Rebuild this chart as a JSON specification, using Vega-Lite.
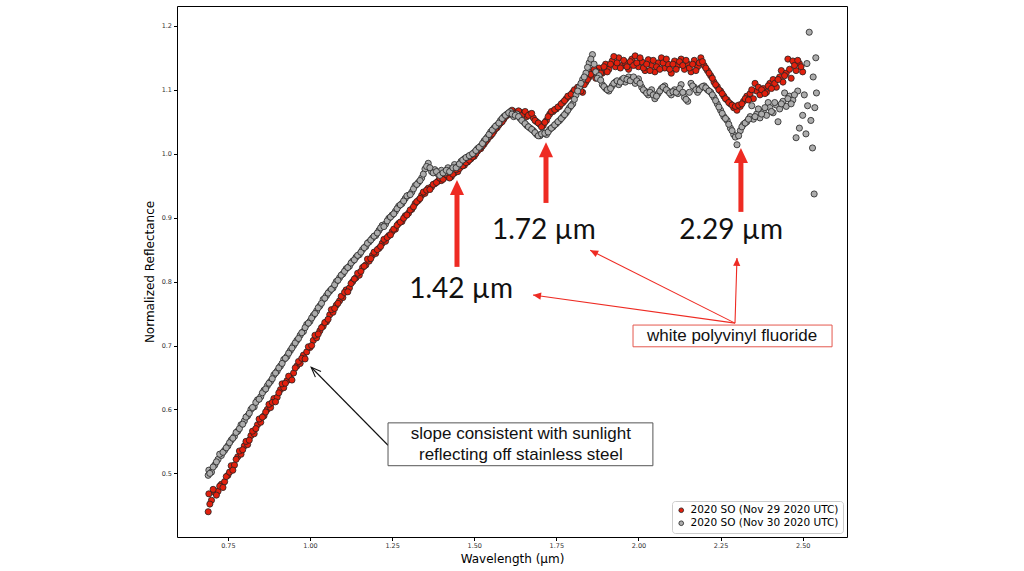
{
"$schema": "https://vega.github.io/schema/vega-lite/v6.json",
"width": 670, "height": 531,
"autosize": "none",
"padding": {"left": 177, "top": 6, "right": 177, "bottom": 34},
"background": "white",
"config": {
  "view": {"stroke": "#000", "strokeWidth": 1},
  "font": "DejaVu Sans",
  "axis": {"domain": false, "grid": false, "tickSize": 3.5, "tickColor": "#000", "labelFontSize": 6.5, "labelColor": "#333", "labelPadding": 2, "titleFontSize": 12, "titleFontWeight": "normal", "titleColor": "#000", "titleFont": "DejaVu Sans", "labelFont": "DejaVu Sans"}
},
"datasets": {
"nov29": [
{"w":0.69,"r":0.44},{"w":0.692,"r":0.468},{"w":0.70,"r":0.458},{"w":0.71,"r":0.47},{"w":0.72,"r":0.472},{"w":0.73,"r":0.483},{"w":0.74,"r":0.487},{"w":0.75,"r":0.497},{"w":0.76,"r":0.512},{"w":0.77,"r":0.513},{"w":0.78,"r":0.526},{"w":0.79,"r":0.53},{"w":0.80,"r":0.543},{"w":0.81,"r":0.545},{"w":0.82,"r":0.559},{"w":0.83,"r":0.562},{"w":0.84,"r":0.576},{"w":0.85,"r":0.58},{"w":0.86,"r":0.59},{"w":0.87,"r":0.6},{"w":0.88,"r":0.603},{"w":0.89,"r":0.617},{"w":0.90,"r":0.619},{"w":0.91,"r":0.631},{"w":0.92,"r":0.634},{"w":0.93,"r":0.645},{"w":0.94,"r":0.65},{"w":0.95,"r":0.657},{"w":0.96,"r":0.668},{"w":0.97,"r":0.672},{"w":0.98,"r":0.685},{"w":0.99,"r":0.69},
{"w":1.00,"r":0.697},{"w":1.01,"r":0.708},{"w":1.02,"r":0.712},{"w":1.03,"r":0.723},{"w":1.04,"r":0.73},{"w":1.05,"r":0.737},{"w":1.06,"r":0.748},{"w":1.07,"r":0.752},{"w":1.08,"r":0.763},{"w":1.09,"r":0.77},{"w":1.10,"r":0.775},{"w":1.11,"r":0.787},{"w":1.12,"r":0.79},{"w":1.13,"r":0.8},{"w":1.14,"r":0.806},{"w":1.15,"r":0.81},{"w":1.16,"r":0.822},{"w":1.17,"r":0.826},{"w":1.18,"r":0.832},{"w":1.19,"r":0.841},{"w":1.20,"r":0.844},{"w":1.21,"r":0.852},{"w":1.22,"r":0.86},{"w":1.23,"r":0.863},{"w":1.24,"r":0.872},{"w":1.25,"r":0.878},{"w":1.26,"r":0.882},{"w":1.27,"r":0.891},{"w":1.28,"r":0.894},{"w":1.29,"r":0.903},{"w":1.30,"r":0.907},{"w":1.31,"r":0.913},{"w":1.32,"r":0.922},{"w":1.33,"r":0.927},{"w":1.34,"r":0.935},{"w":1.35,"r":0.938},{"w":1.36,"r":0.946},{"w":1.37,"r":0.948},{"w":1.38,"r":0.953},{"w":1.39,"r":0.957},{"w":1.40,"r":0.958},{"w":1.41,"r":0.963},{"w":1.42,"r":0.966},{"w":1.43,"r":0.964},{"w":1.44,"r":0.97},{"w":1.45,"r":0.972},{"w":1.46,"r":0.98},{"w":1.47,"r":0.982},{"w":1.48,"r":0.987},{"w":1.49,"r":0.992},
{"w":1.50,"r":0.996},{"w":1.51,"r":1.004},{"w":1.52,"r":1.008},{"w":1.53,"r":1.015},{"w":1.54,"r":1.022},{"w":1.55,"r":1.028},{"w":1.56,"r":1.035},{"w":1.57,"r":1.041},{"w":1.58,"r":1.048},{"w":1.59,"r":1.054},{"w":1.60,"r":1.06},{"w":1.61,"r":1.062},{"w":1.62,"r":1.066},{"w":1.63,"r":1.06},{"w":1.64,"r":1.065},{"w":1.65,"r":1.062},{"w":1.66,"r":1.058},{"w":1.67,"r":1.062},{"w":1.68,"r":1.056},{"w":1.69,"r":1.05},{"w":1.70,"r":1.046},{"w":1.71,"r":1.044},{"w":1.72,"r":1.052},{"w":1.73,"r":1.062},{"w":1.74,"r":1.066},{"w":1.75,"r":1.07},{"w":1.76,"r":1.074},{"w":1.77,"r":1.08},{"w":1.78,"r":1.086},{"w":1.79,"r":1.09},{"w":1.80,"r":1.096},{"w":1.81,"r":1.1},{"w":1.82,"r":1.104},{"w":1.83,"r":1.096},{"w":1.84,"r":1.112},{"w":1.85,"r":1.12},{"w":1.86,"r":1.128},{"w":1.87,"r":1.118},{"w":1.88,"r":1.134},{"w":1.89,"r":1.126},{"w":1.90,"r":1.14},{"w":1.91,"r":1.132},{"w":1.92,"r":1.145},{"w":1.93,"r":1.136},{"w":1.94,"r":1.15},{"w":1.95,"r":1.138},{"w":1.96,"r":1.142},{"w":1.97,"r":1.132},{"w":1.98,"r":1.148},{"w":1.99,"r":1.153},
{"w":2.00,"r":1.136},{"w":2.01,"r":1.144},{"w":2.02,"r":1.13},{"w":2.03,"r":1.147},{"w":2.04,"r":1.138},{"w":2.05,"r":1.128},{"w":2.06,"r":1.142},{"w":2.07,"r":1.15},{"w":2.08,"r":1.134},{"w":2.09,"r":1.14},{"w":2.10,"r":1.126},{"w":2.11,"r":1.145},{"w":2.12,"r":1.138},{"w":2.13,"r":1.148},{"w":2.14,"r":1.132},{"w":2.15,"r":1.14},{"w":2.16,"r":1.128},{"w":2.17,"r":1.146},{"w":2.18,"r":1.136},{"w":2.19,"r":1.15},{"w":2.20,"r":1.138},{"w":2.21,"r":1.13},{"w":2.22,"r":1.122},{"w":2.23,"r":1.112},{"w":2.24,"r":1.105},{"w":2.25,"r":1.098},{"w":2.26,"r":1.09},{"w":2.27,"r":1.084},{"w":2.28,"r":1.078},{"w":2.29,"r":1.072},{"w":2.30,"r":1.068},{"w":2.31,"r":1.074},{"w":2.32,"r":1.082},{"w":2.33,"r":1.09},{"w":2.34,"r":1.094},{"w":2.35,"r":1.086},{"w":2.355,"r":1.11},{"w":2.36,"r":1.098},{"w":2.37,"r":1.092},{"w":2.38,"r":1.102},{"w":2.39,"r":1.096},{"w":2.40,"r":1.11},{"w":2.41,"r":1.116},{"w":2.42,"r":1.104},{"w":2.43,"r":1.12},{"w":2.435,"r":1.13},{"w":2.44,"r":1.112},{"w":2.45,"r":1.126},{"w":2.455,"r":1.148},{"w":2.46,"r":1.132},{"w":2.465,"r":1.118},{"w":2.47,"r":1.145},{"w":2.48,"r":1.13},{"w":2.49,"r":1.141},{"w":2.50,"r":1.128},
{"w":0.695,"r":0.452},{"w":0.705,"r":0.475},{"w":0.715,"r":0.466},{"w":0.725,"r":0.48},{"w":0.735,"r":0.478},{"w":0.745,"r":0.495},{"w":0.755,"r":0.502},{"w":0.765,"r":0.505},{"w":0.775,"r":0.522},{"w":0.785,"r":0.535},{"w":0.795,"r":0.537},{"w":0.805,"r":0.55},{"w":0.815,"r":0.552},{"w":0.825,"r":0.566},{"w":0.835,"r":0.57},{"w":0.845,"r":0.585},{"w":0.855,"r":0.588},{"w":0.865,"r":0.596},{"w":0.875,"r":0.608},{"w":0.885,"r":0.611},{"w":0.895,"r":0.612},{"w":0.905,"r":0.626},{"w":0.915,"r":0.64},{"w":0.925,"r":0.641},{"w":0.935,"r":0.652},{"w":0.945,"r":0.646},{"w":0.955,"r":0.665},{"w":0.965,"r":0.675},{"w":0.975,"r":0.68},{"w":0.985,"r":0.679},{"w":0.995,"r":0.698},
{"w":1.005,"r":0.7},{"w":1.015,"r":0.716},{"w":1.025,"r":0.718},{"w":1.035,"r":0.728},{"w":1.045,"r":0.736},{"w":1.055,"r":0.741},{"w":1.065,"r":0.756},{"w":1.075,"r":0.758},{"w":1.085,"r":0.766},{"w":1.095,"r":0.777},{"w":1.105,"r":0.783},{"w":1.115,"r":0.784},{"w":1.125,"r":0.797},{"w":1.135,"r":0.804},{"w":1.145,"r":0.813},{"w":1.155,"r":0.816},{"w":1.165,"r":0.824},{"w":1.175,"r":0.835},{"w":1.185,"r":0.836},{"w":1.195,"r":0.846},{"w":1.205,"r":0.85},{"w":1.215,"r":0.855},{"w":1.225,"r":0.866},{"w":1.235,"r":0.869},{"w":1.245,"r":0.873},{"w":1.255,"r":0.882},{"w":1.265,"r":0.888},{"w":1.275,"r":0.893},{"w":1.285,"r":0.899},{"w":1.295,"r":0.904},{"w":1.305,"r":0.912},{"w":1.315,"r":0.917},{"w":1.325,"r":0.925},{"w":1.335,"r":0.93},{"w":1.345,"r":0.94},{"w":1.355,"r":0.943},{"w":1.365,"r":0.944},{"w":1.375,"r":0.952},{"w":1.385,"r":0.955},{"w":1.395,"r":0.962},{"w":1.405,"r":0.96},{"w":1.415,"r":0.967},{"w":1.425,"r":0.962},{"w":1.435,"r":0.968},{"w":1.445,"r":0.975},{"w":1.455,"r":0.977},{"w":1.465,"r":0.981},{"w":1.475,"r":0.986},{"w":1.485,"r":0.99},{"w":1.495,"r":0.995},
{"w":1.505,"r":1.0},{"w":1.515,"r":1.007},{"w":1.525,"r":1.012},{"w":1.535,"r":1.019},{"w":1.545,"r":1.026},{"w":1.555,"r":1.031},{"w":1.565,"r":1.039},{"w":1.575,"r":1.045},{"w":1.585,"r":1.05},{"w":1.595,"r":1.058},{"w":1.605,"r":1.063},{"w":1.615,"r":1.068},{"w":1.625,"r":1.063},{"w":1.635,"r":1.067},{"w":1.645,"r":1.06},{"w":1.655,"r":1.066},{"w":1.665,"r":1.06},{"w":1.675,"r":1.063},{"w":1.685,"r":1.052},{"w":1.695,"r":1.048},{"w":1.705,"r":1.042},{"w":1.715,"r":1.049},{"w":1.725,"r":1.058},{"w":1.735,"r":1.066},{"w":1.745,"r":1.069},{"w":1.755,"r":1.073},{"w":1.765,"r":1.078},{"w":1.775,"r":1.083},{"w":1.785,"r":1.09},{"w":1.795,"r":1.093},{"w":1.805,"r":1.1},{"w":1.815,"r":1.104},{"w":1.825,"r":1.098},{"w":1.835,"r":1.108},{"w":1.845,"r":1.116},{"w":1.855,"r":1.124},{"w":1.865,"r":1.132},{"w":1.875,"r":1.128},{"w":1.885,"r":1.126},{"w":1.895,"r":1.136},{"w":1.905,"r":1.128},{"w":1.915,"r":1.14},{"w":1.925,"r":1.152},{"w":1.935,"r":1.142},{"w":1.945,"r":1.134},{"w":1.955,"r":1.146},{"w":1.965,"r":1.136},{"w":1.975,"r":1.144},{"w":1.985,"r":1.138},{"w":1.995,"r":1.142},
{"w":2.005,"r":1.15},{"w":2.015,"r":1.134},{"w":2.025,"r":1.14},{"w":2.035,"r":1.13},{"w":2.045,"r":1.146},{"w":2.055,"r":1.136},{"w":2.065,"r":1.132},{"w":2.075,"r":1.142},{"w":2.085,"r":1.148},{"w":2.095,"r":1.132},{"w":2.105,"r":1.14},{"w":2.115,"r":1.132},{"w":2.125,"r":1.144},{"w":2.135,"r":1.138},{"w":2.145,"r":1.146},{"w":2.155,"r":1.134},{"w":2.165,"r":1.14},{"w":2.175,"r":1.13},{"w":2.185,"r":1.142},{"w":2.195,"r":1.144},{"w":2.205,"r":1.134},{"w":2.215,"r":1.126},{"w":2.225,"r":1.118},{"w":2.235,"r":1.108},{"w":2.245,"r":1.1},{"w":2.255,"r":1.094},{"w":2.265,"r":1.086},{"w":2.275,"r":1.08},{"w":2.285,"r":1.076},{"w":2.295,"r":1.074},{"w":2.305,"r":1.076},{"w":2.315,"r":1.078},{"w":2.325,"r":1.086},{"w":2.335,"r":1.084},{"w":2.345,"r":1.1},{"w":2.365,"r":1.104},{"w":2.375,"r":1.1},{"w":2.385,"r":1.094},{"w":2.395,"r":1.106},{"w":2.405,"r":1.102},{"w":2.415,"r":1.11},{"w":2.425,"r":1.116},{"w":2.445,"r":1.122},{"w":2.475,"r":1.138},{"w":2.485,"r":1.146},{"w":2.495,"r":1.136}
],
"nov30": [
{"w":0.69,"r":0.497},{"w":0.692,"r":0.505},{"w":0.70,"r":0.502},{"w":0.71,"r":0.513},{"w":0.72,"r":0.522},{"w":0.73,"r":0.528},{"w":0.74,"r":0.536},{"w":0.75,"r":0.543},{"w":0.76,"r":0.552},{"w":0.77,"r":0.558},{"w":0.78,"r":0.566},{"w":0.79,"r":0.576},{"w":0.80,"r":0.582},{"w":0.81,"r":0.59},{"w":0.82,"r":0.6},{"w":0.83,"r":0.604},{"w":0.84,"r":0.615},{"w":0.85,"r":0.62},{"w":0.86,"r":0.63},{"w":0.87,"r":0.637},{"w":0.88,"r":0.644},{"w":0.89,"r":0.654},{"w":0.90,"r":0.66},{"w":0.91,"r":0.668},{"w":0.92,"r":0.678},{"w":0.93,"r":0.683},{"w":0.94,"r":0.692},{"w":0.95,"r":0.7},{"w":0.96,"r":0.708},{"w":0.97,"r":0.716},{"w":0.98,"r":0.722},{"w":0.99,"r":0.733},
{"w":1.00,"r":0.738},{"w":1.01,"r":0.747},{"w":1.02,"r":0.754},{"w":1.03,"r":0.762},{"w":1.04,"r":0.772},{"w":1.05,"r":0.778},{"w":1.06,"r":0.785},{"w":1.07,"r":0.79},{"w":1.08,"r":0.8},{"w":1.09,"r":0.806},{"w":1.10,"r":0.812},{"w":1.11,"r":0.82},{"w":1.12,"r":0.824},{"w":1.13,"r":0.832},{"w":1.14,"r":0.838},{"w":1.15,"r":0.842},{"w":1.16,"r":0.85},{"w":1.17,"r":0.855},{"w":1.18,"r":0.862},{"w":1.19,"r":0.868},{"w":1.20,"r":0.872},{"w":1.21,"r":0.88},{"w":1.22,"r":0.888},{"w":1.23,"r":0.89},{"w":1.24,"r":0.899},{"w":1.25,"r":0.904},{"w":1.26,"r":0.91},{"w":1.27,"r":0.918},{"w":1.28,"r":0.922},{"w":1.29,"r":0.93},{"w":1.30,"r":0.935},{"w":1.31,"r":0.94},{"w":1.32,"r":0.95},{"w":1.33,"r":0.955},{"w":1.34,"r":0.962},{"w":1.35,"r":0.976},{"w":1.36,"r":0.985},{"w":1.37,"r":0.972},{"w":1.38,"r":0.975},{"w":1.39,"r":0.968},{"w":1.40,"r":0.974},{"w":1.41,"r":0.97},{"w":1.42,"r":0.978},{"w":1.43,"r":0.975},{"w":1.44,"r":0.983},{"w":1.45,"r":0.98},{"w":1.46,"r":0.988},{"w":1.47,"r":0.992},{"w":1.48,"r":0.995},{"w":1.49,"r":0.998},
{"w":1.50,"r":1.002},{"w":1.51,"r":1.008},{"w":1.52,"r":1.012},{"w":1.53,"r":1.02},{"w":1.54,"r":1.026},{"w":1.55,"r":1.034},{"w":1.56,"r":1.04},{"w":1.57,"r":1.045},{"w":1.58,"r":1.052},{"w":1.59,"r":1.058},{"w":1.60,"r":1.062},{"w":1.61,"r":1.066},{"w":1.62,"r":1.058},{"w":1.63,"r":1.062},{"w":1.64,"r":1.055},{"w":1.65,"r":1.05},{"w":1.66,"r":1.044},{"w":1.67,"r":1.04},{"w":1.68,"r":1.036},{"w":1.69,"r":1.03},{"w":1.70,"r":1.028},{"w":1.71,"r":1.033},{"w":1.72,"r":1.03},{"w":1.73,"r":1.038},{"w":1.74,"r":1.042},{"w":1.75,"r":1.047},{"w":1.76,"r":1.052},{"w":1.77,"r":1.058},{"w":1.78,"r":1.064},{"w":1.79,"r":1.072},{"w":1.80,"r":1.078},{"w":1.81,"r":1.092},{"w":1.82,"r":1.104},{"w":1.83,"r":1.116},{"w":1.84,"r":1.126},{"w":1.85,"r":1.142},{"w":1.86,"r":1.155},{"w":1.87,"r":1.128},{"w":1.88,"r":1.122},{"w":1.89,"r":1.108},{"w":1.90,"r":1.102},{"w":1.91,"r":1.098},{"w":1.92,"r":1.106},{"w":1.93,"r":1.112},{"w":1.94,"r":1.108},{"w":1.95,"r":1.116},{"w":1.96,"r":1.112},{"w":1.97,"r":1.12},{"w":1.98,"r":1.116},{"w":1.99,"r":1.11},
{"w":2.00,"r":1.117},{"w":2.01,"r":1.104},{"w":2.02,"r":1.098},{"w":2.03,"r":1.092},{"w":2.04,"r":1.1},{"w":2.05,"r":1.086},{"w":2.06,"r":1.094},{"w":2.07,"r":1.102},{"w":2.08,"r":1.106},{"w":2.09,"r":1.098},{"w":2.10,"r":1.092},{"w":2.11,"r":1.1},{"w":2.12,"r":1.094},{"w":2.13,"r":1.108},{"w":2.14,"r":1.088},{"w":2.15,"r":1.082},{"w":2.16,"r":1.11},{"w":2.17,"r":1.104},{"w":2.18,"r":1.096},{"w":2.19,"r":1.103},{"w":2.20,"r":1.106},{"w":2.21,"r":1.1},{"w":2.22,"r":1.096},{"w":2.23,"r":1.088},{"w":2.24,"r":1.078},{"w":2.25,"r":1.068},{"w":2.26,"r":1.058},{"w":2.27,"r":1.052},{"w":2.28,"r":1.04},{"w":2.29,"r":1.03},{"w":2.30,"r":1.014},{"w":2.31,"r":1.036},{"w":2.32,"r":1.046},{"w":2.33,"r":1.05},{"w":2.34,"r":1.058},{"w":2.345,"r":1.075},{"w":2.35,"r":1.054},{"w":2.36,"r":1.062},{"w":2.37,"r":1.056},{"w":2.38,"r":1.066},{"w":2.39,"r":1.06},{"w":2.395,"r":1.08},{"w":2.40,"r":1.072},{"w":2.41,"r":1.064},{"w":2.42,"r":1.076},{"w":2.425,"r":1.05},{"w":2.43,"r":1.07},{"w":2.44,"r":1.082},{"w":2.445,"r":1.095},{"w":2.45,"r":1.074},{"w":2.46,"r":1.09},{"w":2.47,"r":1.084},{"w":2.48,"r":1.025},{"w":2.485,"r":1.098},{"w":2.49,"r":1.04},{"w":2.50,"r":1.06},{"w":2.505,"r":1.092},{"w":2.51,"r":1.031},{"w":2.513,"r":1.141},{"w":2.515,"r":1.075},{"w":2.52,"r":1.19},{"w":2.525,"r":1.052},{"w":2.53,"r":1.009},{"w":2.532,"r":1.12},{"w":2.535,"r":0.937},{"w":2.537,"r":1.072},{"w":2.54,"r":1.15},{"w":2.542,"r":1.095},
{"w":0.695,"r":0.5},{"w":0.705,"r":0.51},{"w":0.715,"r":0.518},{"w":0.725,"r":0.53},{"w":0.735,"r":0.533},{"w":0.745,"r":0.54},{"w":0.755,"r":0.548},{"w":0.765,"r":0.555},{"w":0.775,"r":0.564},{"w":0.785,"r":0.57},{"w":0.795,"r":0.577},{"w":0.805,"r":0.588},{"w":0.815,"r":0.594},{"w":0.825,"r":0.603},{"w":0.835,"r":0.611},{"w":0.845,"r":0.616},{"w":0.855,"r":0.626},{"w":0.865,"r":0.632},{"w":0.875,"r":0.641},{"w":0.885,"r":0.648},{"w":0.895,"r":0.657},{"w":0.905,"r":0.665},{"w":0.915,"r":0.672},{"w":0.925,"r":0.68},{"w":0.935,"r":0.688},{"w":0.945,"r":0.696},{"w":0.955,"r":0.704},{"w":0.965,"r":0.711},{"w":0.975,"r":0.72},{"w":0.985,"r":0.728},{"w":0.995,"r":0.735},
{"w":1.005,"r":0.743},{"w":1.015,"r":0.75},{"w":1.025,"r":0.759},{"w":1.035,"r":0.766},{"w":1.045,"r":0.774},{"w":1.055,"r":0.782},{"w":1.065,"r":0.788},{"w":1.075,"r":0.795},{"w":1.085,"r":0.802},{"w":1.095,"r":0.81},{"w":1.105,"r":0.816},{"w":1.115,"r":0.822},{"w":1.125,"r":0.829},{"w":1.135,"r":0.834},{"w":1.145,"r":0.841},{"w":1.155,"r":0.846},{"w":1.165,"r":0.853},{"w":1.175,"r":0.86},{"w":1.185,"r":0.865},{"w":1.195,"r":0.871},{"w":1.205,"r":0.876},{"w":1.215,"r":0.884},{"w":1.225,"r":0.886},{"w":1.235,"r":0.895},{"w":1.245,"r":0.901},{"w":1.255,"r":0.906},{"w":1.265,"r":0.914},{"w":1.275,"r":0.92},{"w":1.285,"r":0.926},{"w":1.295,"r":0.934},{"w":1.305,"r":0.936},{"w":1.315,"r":0.945},{"w":1.325,"r":0.952},{"w":1.335,"r":0.958},{"w":1.345,"r":0.968},{"w":1.355,"r":0.98},{"w":1.365,"r":0.978},{"w":1.375,"r":0.97},{"w":1.385,"r":0.972},{"w":1.395,"r":0.966},{"w":1.405,"r":0.97},{"w":1.415,"r":0.974},{"w":1.425,"r":0.972},{"w":1.435,"r":0.978},{"w":1.445,"r":0.978},{"w":1.455,"r":0.984},{"w":1.465,"r":0.99},{"w":1.475,"r":0.994},{"w":1.485,"r":0.997},{"w":1.495,"r":1.0},
{"w":1.505,"r":1.005},{"w":1.515,"r":1.01},{"w":1.525,"r":1.016},{"w":1.535,"r":1.023},{"w":1.545,"r":1.03},{"w":1.555,"r":1.037},{"w":1.565,"r":1.043},{"w":1.575,"r":1.048},{"w":1.585,"r":1.055},{"w":1.595,"r":1.06},{"w":1.605,"r":1.064},{"w":1.615,"r":1.062},{"w":1.625,"r":1.06},{"w":1.635,"r":1.058},{"w":1.645,"r":1.052},{"w":1.655,"r":1.047},{"w":1.665,"r":1.042},{"w":1.675,"r":1.038},{"w":1.685,"r":1.033},{"w":1.695,"r":1.028},{"w":1.705,"r":1.031},{"w":1.715,"r":1.032},{"w":1.725,"r":1.034},{"w":1.735,"r":1.04},{"w":1.745,"r":1.045},{"w":1.755,"r":1.05},{"w":1.765,"r":1.055},{"w":1.775,"r":1.061},{"w":1.785,"r":1.068},{"w":1.795,"r":1.075},{"w":1.805,"r":1.085},{"w":1.815,"r":1.098},{"w":1.825,"r":1.11},{"w":1.835,"r":1.12},{"w":1.845,"r":1.135},{"w":1.855,"r":1.148},{"w":1.865,"r":1.14},{"w":1.875,"r":1.118},{"w":1.885,"r":1.115},{"w":1.895,"r":1.105},{"w":1.905,"r":1.1},{"w":1.915,"r":1.102},{"w":1.925,"r":1.11},{"w":1.935,"r":1.114},{"w":1.945,"r":1.112},{"w":1.955,"r":1.118},{"w":1.965,"r":1.116},{"w":1.975,"r":1.114},{"w":1.985,"r":1.12},{"w":1.995,"r":1.114},
{"w":2.005,"r":1.11},{"w":2.015,"r":1.1},{"w":2.025,"r":1.095},{"w":2.035,"r":1.096},{"w":2.045,"r":1.092},{"w":2.055,"r":1.09},{"w":2.065,"r":1.098},{"w":2.075,"r":1.104},{"w":2.085,"r":1.1},{"w":2.095,"r":1.095},{"w":2.105,"r":1.097},{"w":2.115,"r":1.096},{"w":2.125,"r":1.102},{"w":2.135,"r":1.096},{"w":2.145,"r":1.085},{"w":2.155,"r":1.096},{"w":2.165,"r":1.106},{"w":2.175,"r":1.1},{"w":2.185,"r":1.1},{"w":2.195,"r":1.105},{"w":2.205,"r":1.103},{"w":2.215,"r":1.098},{"w":2.225,"r":1.092},{"w":2.235,"r":1.083},{"w":2.245,"r":1.073},{"w":2.255,"r":1.063},{"w":2.265,"r":1.055},{"w":2.275,"r":1.046},{"w":2.285,"r":1.036},{"w":2.295,"r":1.026},{"w":2.305,"r":1.028},{"w":2.315,"r":1.042},{"w":2.325,"r":1.048},{"w":2.335,"r":1.054},{"w":2.355,"r":1.058},{"w":2.365,"r":1.07},{"w":2.375,"r":1.062},{"w":2.385,"r":1.072},{"w":2.405,"r":1.066},{"w":2.415,"r":1.08},{"w":2.435,"r":1.078},{"w":2.455,"r":1.086},{"w":2.465,"r":1.078},{"w":2.475,"r":1.092}
]
},
"encoding": {
  "x": {"field": "w", "type": "quantitative", "scale": {"domain": [0.595, 2.635], "nice": false, "zero": false}, "axis": {"title": "Wavelength (µm)", "values": [0.75, 1, 1.25, 1.5, 1.75, 2, 2.25, 2.5], "format": ".2f", "titlePadding": 4}},
  "y": {"field": "r", "type": "quantitative", "scale": {"domain": [0.4005, 1.231], "nice": false, "zero": false}, "axis": {"title": "Normalized Reflectance", "values": [0.5, 0.6, 0.7, 0.8, 0.9, 1.0, 1.1, 1.2], "format": ".1f", "titlePadding": 5}}
},
"layer": [
  {"data": {"name": "nov29"}, "mark": {"type": "point", "filled": true, "size": 38, "stroke": "#222", "strokeWidth": 0.8, "opacity": 1},
   "encoding": {"color": {"datum": "2020 SO (Nov 29 2020 UTC)", "type": "nominal",
     "scale": {"domain": ["2020 SO (Nov 29 2020 UTC)", "2020 SO (Nov 30 2020 UTC)"], "range": ["#e2200d", "#acacac"]},
     "legend": {"title": null, "orient": "bottom-right", "offset": 4, "fillColor": "white", "strokeColor": "#cccccc", "cornerRadius": 3, "padding": 4, "labelFontSize": 10.5, "labelFont": "DejaVu Sans", "labelColor": "#000", "symbolType": "circle", "symbolSize": 22, "symbolStrokeColor": "#222", "symbolStrokeWidth": 0.8, "rowPadding": 2, "labelOffset": 4, "labelLimit": 300}}}},
  {"data": {"name": "nov30"}, "mark": {"type": "point", "filled": true, "size": 38, "stroke": "#222", "strokeWidth": 0.8, "opacity": 1},
   "encoding": {"color": {"datum": "2020 SO (Nov 30 2020 UTC)", "type": "nominal"}}},
  {"data": {"values": [{"w": 1.4475, "r": 0.823, "r2": 0.945}, {"w": 1.7185, "r": 0.923, "r2": 1.003}, {"w": 2.312, "r": 0.909, "r2": 0.994}]},
   "mark": {"type": "rule", "color": "#ee2b23", "strokeWidth": 5},
   "encoding": {"y2": {"field": "r2"}}},
  {"data": {"values": [{"w": 1.4475, "r": 0.959}, {"w": 1.7185, "r": 1.018}, {"w": 2.312, "r": 1.009}]},
   "mark": {"type": "point", "shape": "M0,0L0.47,1L-0.47,1Z", "size": 900, "filled": true, "color": "#ee2b23", "opacity": 1, "strokeWidth": 0}},
  {"data": {"values": [{"w": 1.460, "r": 0.787, "t": "1.42 µm"}, {"w": 1.712, "r": 0.879, "t": "1.72 µm"}, {"w": 2.282, "r": 0.879, "t": "2.29 µm"}]},
   "mark": {"type": "text", "font": "Lato", "fontSize": 28, "color": "#111", "align": "center", "baseline": "middle"},
   "encoding": {"text": {"field": "t"}}},
  {"data": {"values": [{"w": 2.294, "r": 0.735, "w2": 1.679, "r2": 0.779}, {"w": 2.294, "r": 0.735, "w2": 1.853, "r2": 0.849}, {"w": 2.294, "r": 0.735, "w2": 2.300, "r2": 0.837}]},
   "mark": {"type": "rule", "color": "#ee2b23", "strokeWidth": 1.1},
   "encoding": {"x2": {"field": "w2"}, "y2": {"field": "r2"}}},
  {"data": {"values": [{"w": 1.679, "r": 0.779}]},
   "mark": {"type": "point", "shape": "M0,0L0.45,1L-0.45,1Z", "size": 256, "filled": true, "color": "#ee2b23", "opacity": 1, "strokeWidth": 0, "angle": 278}},
  {"data": {"values": [{"w": 1.853, "r": 0.849}]},
   "mark": {"type": "point", "shape": "M0,0L0.45,1L-0.45,1Z", "size": 256, "filled": true, "color": "#ee2b23", "opacity": 1, "strokeWidth": 0, "angle": 297}},
  {"data": {"values": [{"w": 2.300, "r": 0.837}]},
   "mark": {"type": "point", "shape": "M0,0L0.45,1L-0.45,1Z", "size": 256, "filled": true, "color": "#ee2b23", "opacity": 1, "strokeWidth": 0, "angle": 2}},
  {"data": {"values": [{"w": 1.9835, "r": 0.732, "w2": 2.5895, "r2": 0.698}]},
   "mark": {"type": "rect", "fill": "white", "stroke": "#e4584e", "strokeWidth": 1},
   "encoding": {"x2": {"field": "w2"}, "y2": {"field": "r2"}}},
  {"data": {"values": [{"w": 2.285, "r": 0.715, "t": "white polyvinyl fluoride"}]},
   "mark": {"type": "text", "font": "Liberation Sans", "fontSize": 17, "color": "#111", "align": "center", "baseline": "middle"},
   "encoding": {"text": {"field": "t"}}},
  {"data": {"values": [{"w": 1.2375, "r": 0.544, "w2": 1.0035, "r2": 0.666}]},
   "mark": {"type": "rule", "color": "#111", "strokeWidth": 1.1},
   "encoding": {"x2": {"field": "w2"}, "y2": {"field": "r2"}}},
  {"data": {"values": [{"w": 1.0035, "r": 0.666}]},
   "mark": {"type": "point", "shape": "M-0.4,1L0,0L0.4,1", "size": 400, "filled": false, "color": "#111", "opacity": 1, "strokeWidth": 1.1, "angle": 315}},
  {"data": {"values": [{"w": 1.2375, "r": 0.579, "w2": 2.044, "r2": 0.512}]},
   "mark": {"type": "rect", "fill": "white", "stroke": "#555", "strokeWidth": 1},
   "encoding": {"x2": {"field": "w2"}, "y2": {"field": "r2"}}},
  {"data": {"values": [{"w": 1.642, "r": 0.562, "t": "slope consistent with sunlight"}, {"w": 1.642, "r": 0.529, "t": "reflecting off stainless steel"}]},
   "mark": {"type": "text", "font": "Liberation Sans", "fontSize": 17, "color": "#111", "align": "center", "baseline": "middle"},
   "encoding": {"text": {"field": "t"}}}
]
}
